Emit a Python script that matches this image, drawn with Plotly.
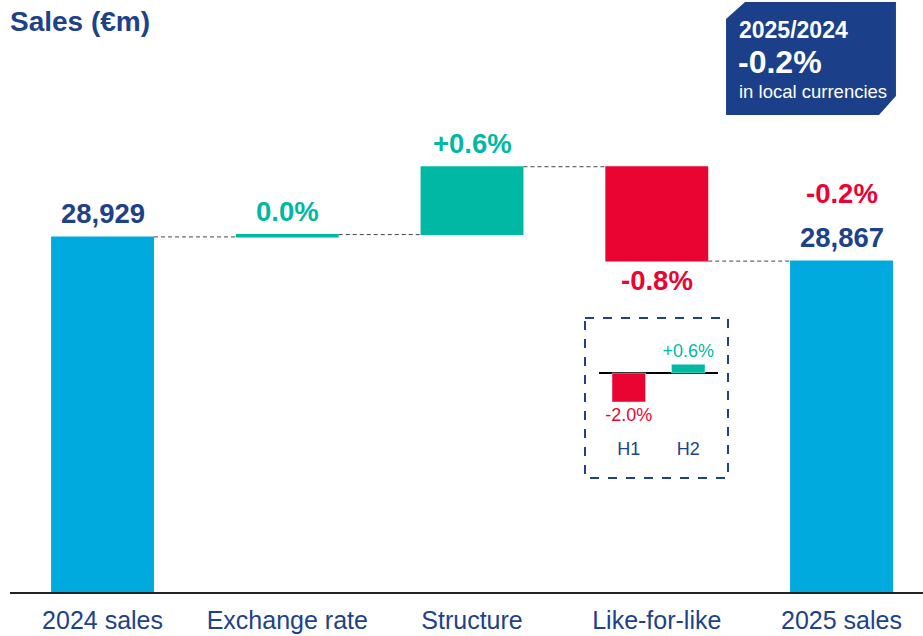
import plotly.graph_objects as go

# ---- data ----
categories = ["2024 sales", "Exchange rate", "Structure", "Like-for-like", "2025 sales"]
measures = ["absolute", "relative", "relative", "relative", "total"]
values = [28929, 6, 174, -242, 0]
bar_labels = ["28,929", "0.0%", "+0.6%", "-0.8%", "28,867"]
total_change = "-0.2%"

half_cats = ["H1", "H2"]
half_values = [-2.0, 0.6]
half_labels = ["-2.0%", "+0.6%"]

box_year = "2025/2024"
box_value = "-0.2%"
box_note = "in local currencies"

NAVY = "#1D428A"
SKY = "#00AADF"
TEAL = "#00B8A3"
RED = "#EA0432"
FONT = "Arial, Liberation Sans, sans-serif"

W, H = 923, 636


def px(x):
    return x / W


def py(y):
    return 1 - y / H


fig = go.Figure()

fig.add_trace(go.Waterfall(
    x=categories, y=values, measure=measures,
    width=0.557,
    increasing=dict(marker=dict(color=TEAL)),
    decreasing=dict(marker=dict(color=RED)),
    totals=dict(marker=dict(color=SKY)),
    connector=dict(mode="between", line=dict(color="#444444", width=1, dash="4px,3px")),
    hoverinfo="skip",
    xaxis="x", yaxis="y",
))

# inset H1 / H2 chart
half_colors = [RED if v < 0 else TEAL for v in half_values]
fig.add_trace(go.Bar(
    x=half_cats, y=half_values, width=0.563,
    marker=dict(color=half_colors),
    text=half_labels, textposition="outside", constraintext="none",
    textfont=dict(family=FONT, size=18, color=half_colors),
    cliponaxis=False, hoverinfo="skip",
    xaxis="x2", yaxis="y2",
))

# labels from running totals
annotations = []
run = 0
for i, (m, v) in enumerate(zip(measures, values)):
    if m == "absolute":
        start, end = 0, v
        run = v
    elif m == "relative":
        start, end = run, run + v
        run = end
    else:
        start, end = 0, run
    if m != "relative":
        color = NAVY
    elif v < 0:
        color = RED
    else:
        color = TEAL
    if end >= start:
        annotations.append(dict(x=categories[i], y=end, xref="x", yref="y", text=bar_labels[i],
                                yanchor="bottom", yshift=6, showarrow=False,
                                font=dict(family=FONT, size=27.5, color=color)))
    else:
        annotations.append(dict(x=categories[i], y=end, xref="x", yref="y", text=bar_labels[i],
                                yanchor="top", yshift=-2, showarrow=False,
                                font=dict(family=FONT, size=27.5, color=color)))
    if m == "total":
        annotations.append(dict(x=categories[i], y=end, xref="x", yref="y",
                                text=total_change, yanchor="bottom", yshift=50, showarrow=False,
                                font=dict(family=FONT, size=27.5, color=RED)))

for a in annotations:
    a["text"] = "<b>" + a["text"] + "</b>"

annotations += [
    dict(x=px(8), y=py(21), xref="paper", yref="paper", xanchor="left", yanchor="middle",
         text="<b>Sales (€m)</b>", showarrow=False, font=dict(family=FONT, size=28, color=NAVY)),
    dict(x=px(737), y=py(30), xref="paper", yref="paper", xanchor="left", yanchor="middle",
         text="<b>" + box_year + "</b>", showarrow=False, font=dict(family=FONT, size=23, color="white")),
    dict(x=px(736), y=py(62), xref="paper", yref="paper", xanchor="left", yanchor="middle",
         text="<b>" + box_value + "</b>", showarrow=False, font=dict(family=FONT, size=32, color="white")),
    dict(x=px(737), y=py(91), xref="paper", yref="paper", xanchor="left", yanchor="middle",
         text=box_note, showarrow=False, font=dict(family=FONT, size=18.5, color="white")),
]

box_pts = [(726, 19), (745, 2), (896, 2), (896, 96), (879, 115), (726, 115)]
box_path = "M " + " L ".join(f"{px(x):.4f},{py(y):.4f}" for x, y in box_pts) + " Z"

shapes = [
    dict(type="path", xref="paper", yref="paper", path=box_path, fillcolor="#1B4089", line=dict(width=0)),
    dict(type="line", xref="paper", yref="paper", x0=px(10), x1=1, y0=py(593), y1=py(593),
         line=dict(color="#222222", width=2)),
    dict(type="rect", xref="paper", yref="paper", x0=px(585), x1=px(728), y0=py(318), y1=py(478),
         line=dict(color=NAVY, width=2, dash="dash")),
]

fig.update_layout(
    width=W, height=H,
    margin=dict(l=0, r=0, t=0, b=0),
    paper_bgcolor="white", plot_bgcolor="rgba(0,0,0,0)",
    showlegend=False,
    annotations=annotations, shapes=shapes,
    xaxis=dict(domain=[0, 1], range=[-0.555, 4.441], showgrid=False, zeroline=False,
               showline=False, ticks="", automargin=False, ticklabelstandoff=10,
               tickfont=dict(family=FONT, size=25, color=NAVY)),
    yaxis=dict(domain=[1 - 593 / H, 1], range=[28016, 29536.5], visible=False, automargin=False),
    xaxis2=dict(domain=[px(599), px(718)], range=[-0.5, 1.5], anchor="y2", showgrid=False,
                zeroline=False, showline=False, ticks="", automargin=False,
                tickfont=dict(family=FONT, size=18, color=NAVY)),
    yaxis2=dict(domain=[py(436), py(340)], range=[-4.345, 2.276], anchor="x2", showgrid=False,
                showticklabels=False, zeroline=True, zerolinecolor="black", zerolinewidth=2,
                automargin=False),
)

fig.write_html("out.html", config={"displayModeBar": False},
               post_script="document.body.style.margin='0';document.body.style.overflow='hidden';")
